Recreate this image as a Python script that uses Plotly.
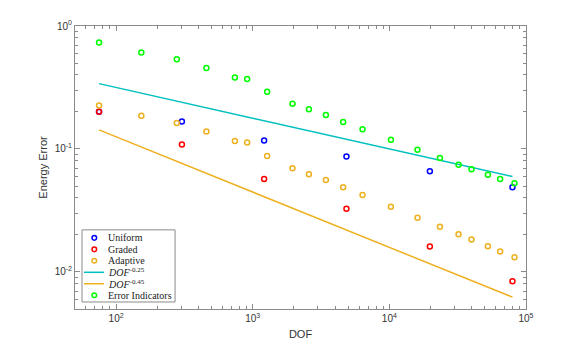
import plotly.graph_objects as go

# DOF for the adaptive runs / error indicators
dof_adapt = [75, 153, 278, 458, 740, 910, 1274, 1954, 2577, 3430, 4590, 6360,
             10260, 16060, 23440, 32070, 39920, 52600, 64700, 82400]
err_adapt = [0.226, 0.186, 0.163, 0.139, 0.116, 0.113, 0.0879, 0.0697, 0.0623, 0.0560,
             0.0488, 0.0422, 0.0339, 0.0276, 0.0233, 0.0203, 0.0184, 0.0162, 0.0147, 0.0132]
err_ind = [0.733, 0.608, 0.536, 0.456, 0.382, 0.371, 0.292, 0.233, 0.210, 0.189,
           0.166, 0.145, 0.119, 0.0984, 0.0846, 0.0746, 0.0685, 0.0618, 0.0570, 0.0526]

# uniform / graded refinement
dof_unif = [75, 303, 1211, 4850, 19780, 79600]
err_unif = [0.201, 0.167, 0.117, 0.0867, 0.0659, 0.0488]
err_graded = [0.201, 0.109, 0.0570, 0.0327, 0.0161, 0.0084]

# reference slopes
ref_dof = [75, 79600]
ref_025 = [0.340, 0.0597]
ref_045 = [0.143, 0.00624]

BLUE = "#0000FF"
RED = "#FF0000"
ORANGE = "#EDB120"
CYAN = "#00BFBF"
GREEN = "#00FF00"
AXIS = "#8a8a8a"
SANS = "Liberation Sans, Arial"
SERIF = "Liberation Serif, Times New Roman"

legend_names = ["Uniform", "Graded", "Adaptive", "<i>DOF</i><sup>-0.25</sup>",
                "<i>DOF</i><sup>-0.45</sup>", "Error Indicators"]
legend_colors = [BLUE, RED, ORANGE, CYAN, ORANGE, GREEN]
legend_kinds = ["marker", "marker", "marker", "line", "line", "marker"]


def open_markers(x, y, color, name):
    return go.Scatter(
        x=x, y=y, mode="markers", name=name,
        marker=dict(symbol="circle-open", size=5, color=color, line=dict(width=1.5, color=color)),
    )


fig = go.Figure()
fig.add_trace(open_markers(dof_unif, err_unif, BLUE, "Uniform"))
fig.add_trace(open_markers(dof_unif, err_graded, RED, "Graded"))
fig.add_trace(open_markers(dof_adapt, err_adapt, ORANGE, "Adaptive"))
fig.add_trace(go.Scatter(x=ref_dof, y=ref_025, mode="lines", name="DOF^-0.25",
                         line=dict(color=CYAN, width=1.5)))
fig.add_trace(go.Scatter(x=ref_dof, y=ref_045, mode="lines", name="DOF^-0.45",
                         line=dict(color=ORANGE, width=1.5)))
fig.add_trace(open_markers(dof_adapt, err_ind, GREEN, "Error Indicators"))

x_major = [100, 1000, 10000, 100000]
x_labels = ["10<sup>2</sup>", "10<sup>3</sup>", "10<sup>4</sup>", "10<sup>5</sup>"]
x_minor = [m * 10 ** e for e in range(1, 5) for m in range(2, 10) if 50 <= m * 10 ** e <= 100000]
y_major = [0.01, 0.1, 1]
y_labels = ["10<sup>-2</sup>", "10<sup>-1</sup>", "10<sup>0</sup>"]
y_minor = [m * 10.0 ** e for e in range(-3, 0) for m in range(2, 10) if 0.005 <= m * 10.0 ** e <= 1]

axis_common = dict(
    type="log", showgrid=False, zeroline=False, showline=True, linecolor=AXIS, linewidth=1,
    mirror="allticks", ticks="inside", ticklen=5, tickcolor=AXIS, tickmode="array",
    tickfont=dict(family=SANS, size=10, color="#333333"), automargin=False,
)

fig.update_xaxes(
    **axis_common, range=[1.699, 5], tickvals=x_major, ticktext=x_labels,
    minor=dict(tickmode="array", tickvals=x_minor, ticks="inside", ticklen=3, tickcolor=AXIS),
    title=dict(text="DOF", font=dict(family=SANS, size=11, color="#333333"), standoff=7),
)
fig.update_yaxes(
    **axis_common, range=[-2.301, 0], tickvals=y_major, ticktext=y_labels,
    minor=dict(tickmode="array", tickvals=y_minor, ticks="inside", ticklen=3, tickcolor=AXIS),
    title=dict(text="Energy Error", font=dict(family=SANS, size=11, color="#333333"), standoff=4),
)

# hand-drawn legend (MATLAB-style compact box), in paper fractions
plot_w, plot_h = 450.7, 282.5
def px_x(p):
    return (p - 75) / plot_w
def px_y(p):
    return 1 - (p - 25.5) / plot_h

shapes = [dict(type="rect", xref="paper", yref="paper", x0=px_x(82), x1=px_x(175),
               y0=px_y(301), y1=px_y(229), line=dict(color=AXIS, width=1), fillcolor="white", layer="above")]
annotations = []
for i, (name, color, kind) in enumerate(zip(legend_names, legend_colors, legend_kinds)):
    yc = px_y(237 + i * 11.45)
    if kind == "line":
        shapes.append(dict(type="line", xref="paper", yref="paper", x0=px_x(84), x1=px_x(104),
                           y0=yc, y1=yc, line=dict(color=color, width=1.5), layer="above"))
    else:
        shapes.append(dict(type="circle", xref="paper", yref="paper", xsizemode="pixel", ysizemode="pixel",
                           xanchor=px_x(94.3), yanchor=yc, x0=-2.3, x1=2.3, y0=-2.3, y1=2.3,
                           line=dict(color=color, width=1.5), layer="above"))
    annotations.append(dict(text=name, xref="paper", yref="paper", x=px_x(106), y=yc,
                            xanchor="left", yanchor="middle", showarrow=False,
                            font=dict(family=SERIF, size=10, color="#222222")))

# the page body adds an 8px offset, so the margins are pulled in by that much
fig.update_layout(
    width=581, height=347,
    margin=dict(l=67, r=63, t=18, b=46),
    paper_bgcolor="white", plot_bgcolor="white",
    showlegend=False,
    shapes=shapes, annotations=annotations,
)

fig.write_html("out.html")
